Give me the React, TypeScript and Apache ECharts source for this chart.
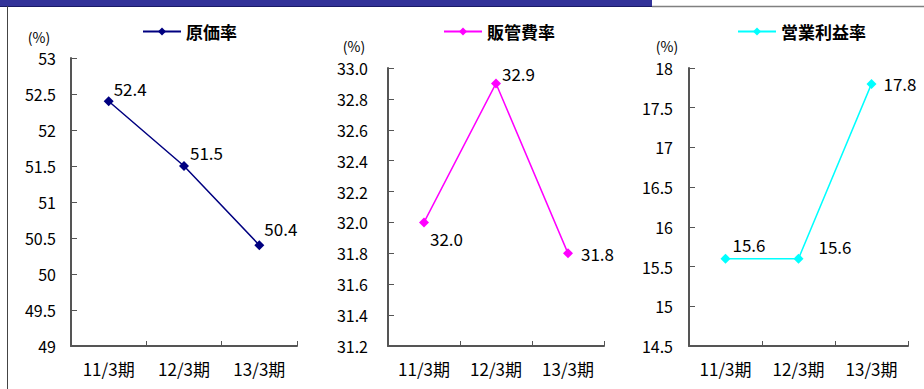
import React, { useEffect, useRef } from "react";
import * as echarts from "echarts";

// Fiscal periods shown on every panel
const periods = ["11/3期", "12/3期", "13/3期"];

// Ratios per period (%)
const costRatio = [52.4, 51.5, 50.4];
const sgaRatio = [32.0, 32.9, 31.8];
const operatingMargin = [15.6, 15.6, 17.8];

// Series names
const seriesNames = ["原価率", "販管費率", "営業利益率"];

// Y-axis scales: [min, max, interval]
const costScale = [49, 53, 0.5];
const sgaScale = [31.2, 33.0, 0.2];
const marginScale = [14.5, 18, 0.5];

const unitLabel = "(%)";

const FONT = '"Noto Sans CJK JP", "Noto Sans", sans-serif';
const CJK = '"Noto Sans CJK JP", sans-serif';

export default function App() {
  const ref = useRef<HTMLDivElement>(null);

  useEffect(() => {
    if (!ref.current) return;
    const chart = echarts.init(ref.current, undefined, { renderer: "svg" });

    const panels = [
      {
        name: seriesNames[0],
        values: costRatio,
        scale: costScale,
        color: "#000080",
        grid: { left: 71, top: 58, width: 226, height: 288 },
        labelMargin: 15,
        fmt: (v: number) => String(Number(v.toFixed(1))),
        offsets: [
          [0, -13],
          [1, -14],
          [0, -17],
        ],
        legend: { left: 142, top: 23 },
        unit: { x: 39, y: 37 },
      },
      {
        name: seriesNames[1],
        values: sgaRatio,
        scale: sgaScale,
        color: "#FF00FF",
        grid: { left: 388, top: 68, width: 216, height: 278 },
        labelMargin: 20,
        fmt: (v: number) => v.toFixed(1),
        offsets: [
          [1, 16],
          [1, -10],
          [8, 0],
        ],
        legend: { left: 443, top: 23 },
        unit: { x: 354, y: 46 },
      },
      {
        name: seriesNames[2],
        values: operatingMargin,
        scale: marginScale,
        color: "#00FFFF",
        grid: { left: 689, top: 68, width: 219, height: 278 },
        labelMargin: 16,
        fmt: (v: number) => String(Number(v.toFixed(1))),
        offsets: [
          [2, -14],
          [15, -12],
          [7, 0],
        ],
        legend: { left: 737, top: 23 },
        unit: { x: 667, y: 46 },
      },
    ];

    const axisStyle = { lineStyle: { color: "#555", width: 2 } };

    const option: any = {
      animation: false,
      backgroundColor: "#fff",
      grid: panels.map((p) => ({ ...p.grid, containLabel: false })),
      legend: panels.map((p) => ({
        data: [p.name],
        left: p.legend.left,
        top: p.legend.top,
        padding: 0,
        itemWidth: 38,
        itemHeight: 10,
        itemGap: 4,
        textStyle: { fontFamily: CJK, fontSize: 17, fontWeight: "bold", color: "#000" },
      })),
      xAxis: panels.map((_, i) => ({
        type: "category",
        gridIndex: i,
        data: periods,
        boundaryGap: true,
        axisLine: axisStyle,
        axisTick: { show: true, inside: true, length: 5, lineStyle: { color: "#555", width: 1 } },
        axisLabel: { fontFamily: FONT, fontSize: 17, color: "#000", margin: 14 },
        splitLine: { show: false },
      })),
      yAxis: panels.map((p, i) => ({
        type: "value",
        gridIndex: i,
        min: p.scale[0],
        max: p.scale[1],
        interval: p.scale[2],
        axisLine: { show: true, ...axisStyle },
        axisTick: { show: true, inside: true, length: 6, lineStyle: { color: "#555", width: 1 } },
        axisLabel: {
          fontFamily: FONT,
          fontSize: 16,
          color: "#000",
          margin: p.labelMargin,
          formatter: p.fmt,
        },
        splitLine: { show: false },
      })),
      series: panels.map((p, i) => ({
        type: "line",
        name: p.name,
        xAxisIndex: i,
        yAxisIndex: i,
        symbol: "diamond",
        symbolSize: 10,
        lineStyle: { color: p.color, width: 1.5 },
        itemStyle: { color: p.color },
        data: p.values.map((v, j) => ({
          value: v,
          label: {
            show: true,
            position: "right",
            distance: 0,
            offset: p.offsets[j],
            formatter: () => v.toFixed(1),
            fontFamily: FONT,
            fontSize: 17,
            color: "#000",
          },
        })),
      })),
      graphic: [
        { type: "rect", shape: { x: 0, y: 0, width: 652, height: 6 }, style: { fill: "#333399" } },
        { type: "line", shape: { x1: 0, y1: 6.5, x2: 652, y2: 6.5 }, style: { stroke: "#1a1a66", lineWidth: 1 } },
        { type: "line", shape: { x1: 652, y1: 6.5, x2: 924, y2: 6.5 }, style: { stroke: "#808080", lineWidth: 1.5 } },
        { type: "line", shape: { x1: 7.5, y1: 6, x2: 7.5, y2: 389 }, style: { stroke: "#444", lineWidth: 1 } },
        ...panels.map((p) => ({
          type: "text",
          x: p.unit.x,
          y: p.unit.y,
          style: {
            text: unitLabel,
            fontFamily: FONT,
            fontSize: 14,
            fill: "#000",
            align: "center",
            verticalAlign: "middle",
          },
        })),
      ],
    };

    chart.setOption(option);
    return () => chart.dispose();
  }, []);

  return (
    <div
      ref={ref}
      style={{ position: "absolute", left: 0, top: 0, width: 924, height: 389 }}
    />
  );
}
